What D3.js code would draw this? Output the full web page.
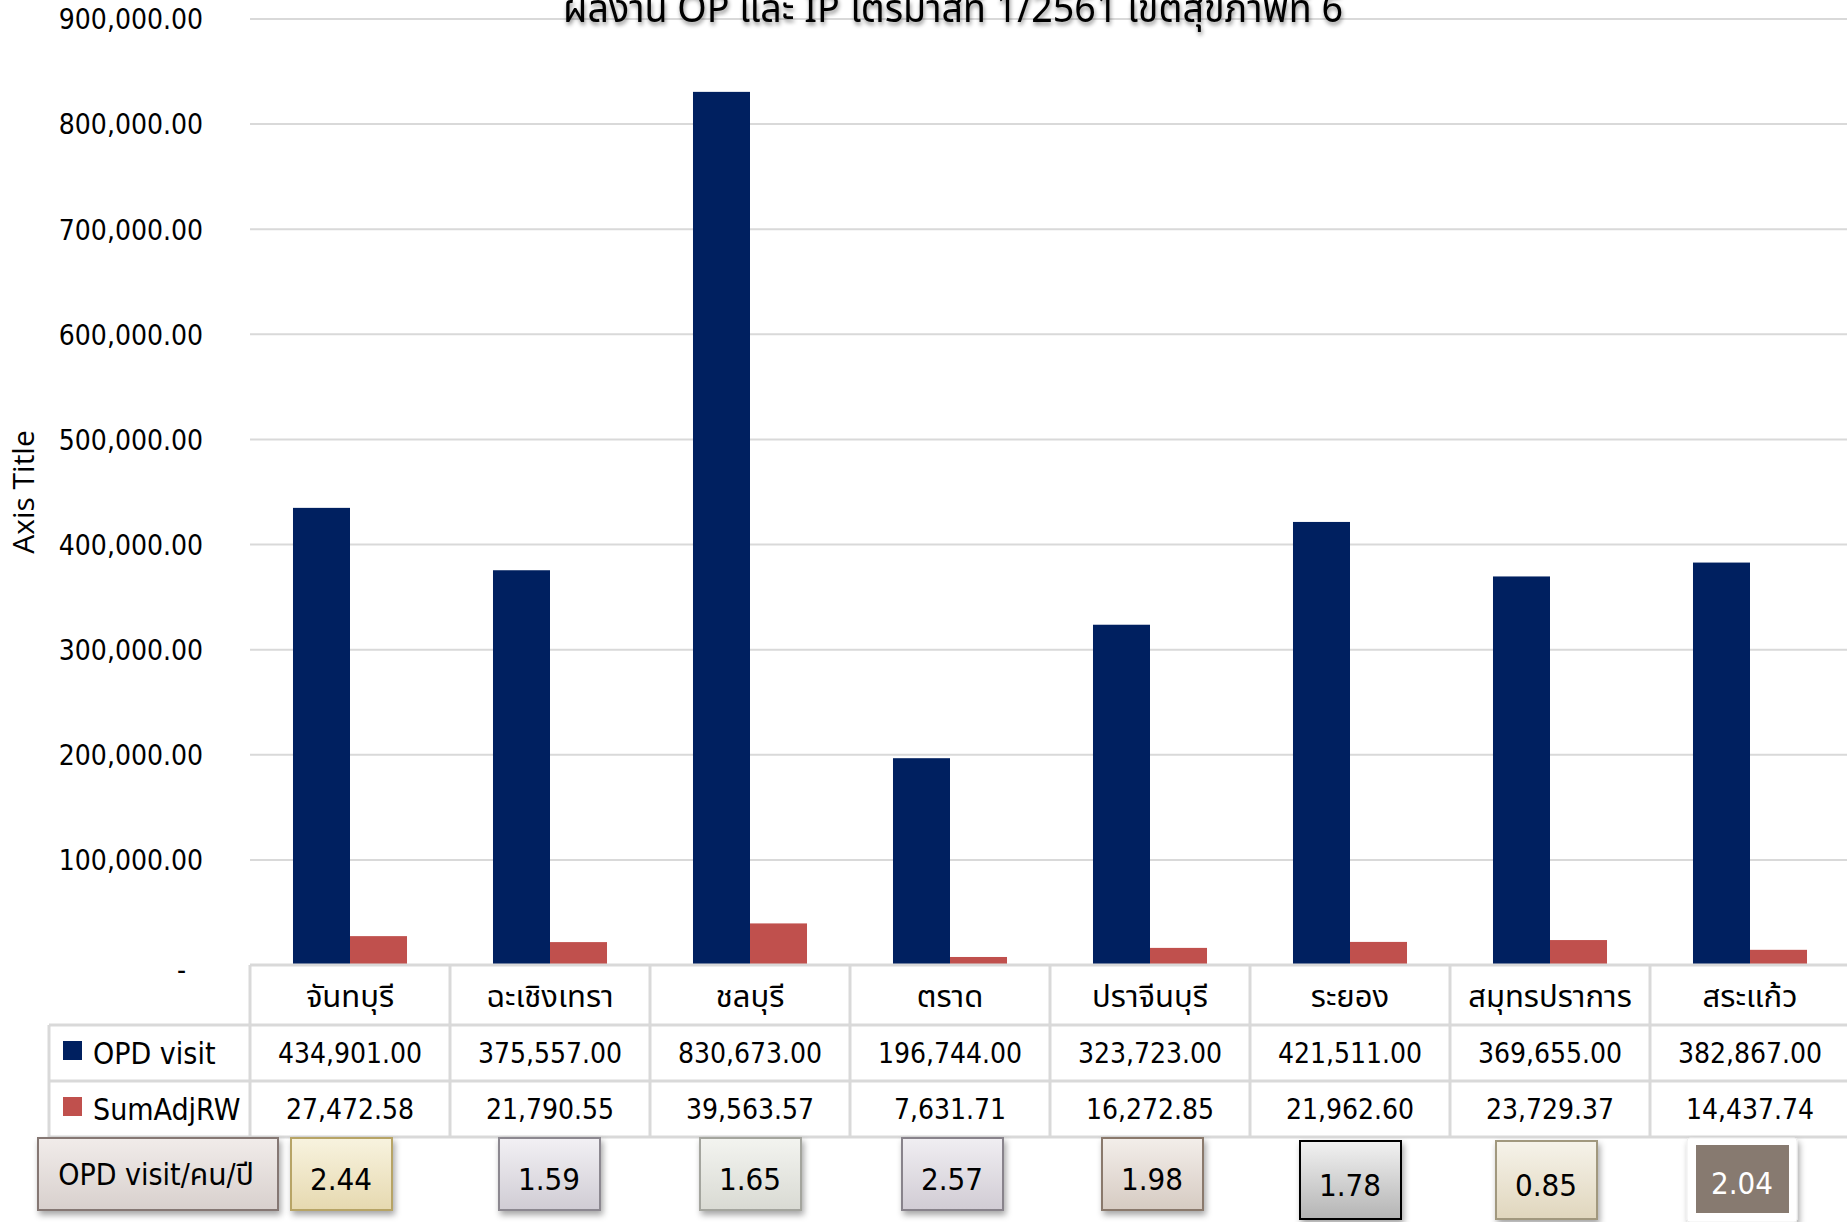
<!DOCTYPE html>
<html>
<head>
<meta charset="utf-8">
<script src="https://cdn.jsdelivr.net/npm/d3@7"></script>
<style>
  body { margin: 0; background: #fff; }
  text { font-family: "DejaVu Sans Condensed", "Noto Sans Thai", "Noto Sans", sans-serif; fill: #000; }
  text.thai { font-family: "Noto Sans Thai", "DejaVu Sans Condensed", sans-serif; }
</style>
</head>
<body>
<div id="chart"></div>
<script>
// data
const provinces = ["จันทบุรี", "ฉะเชิงเทรา", "ชลบุรี", "ตราด", "ปราจีนบุรี", "ระยอง", "สมุทรปราการ", "สระแก้ว"];
const seriesNames = ["OPD visit", "SumAdjRW"];
const opdVisit = [434901, 375557, 830673, 196744, 323723, 421511, 369655, 382867];
const sumAdjRW = [27472.58, 21790.55, 39563.57, 7631.71, 16272.85, 21962.60, 23729.37, 14437.74];
const visitPerPerson = [2.44, 1.59, 1.65, 2.57, 1.98, 1.78, 0.85, 2.04];
const yTicks = [0, 100000, 200000, 300000, 400000, 500000, 600000, 700000, 800000, 900000];
const titleText = "ผลงาน OP และ IP ไตรมาสที่ 1/2561 เขตสุขภาพที่ 6";
const axisTitle = "Axis Title";
const ratioLabel = "OPD visit/คน/ปี";

// look of the little boxes under the table
const boxStyles = [
  { top: "#f8f3df", bottom: "#e6d9b0", stroke: "#b7a466", dx: -9 },
  { top: "#f2f0f4", bottom: "#d0ccd4", stroke: "#8c8890", dx: -1 },
  { top: "#f3f4f0", bottom: "#d9dad3", stroke: "#a4a59e", dx: 0 },
  { top: "#f0eef2", bottom: "#d1ccd4", stroke: "#88838b", dx: 2 },
  { top: "#f3eeea", bottom: "#d6cbc2", stroke: "#8a796c", dx: 2 },
  { top: "#f2f2f2", bottom: "#b4b4b4", stroke: "#000", dx: 0, tall: true },
  { top: "#f6f3ea", bottom: "#e0d6bd", stroke: "#a1987e", dx: -4, tall: true },
  { top: "#877a70", bottom: "#877a70", stroke: "#fff", dx: -8, dark: true }
];

const width = 1847, height = 1222;
const plotLeft = 250, plotRight = 1850, plotTop = 19, base = 965;
const colors = ["#002060", "#C0504D"];
const gridColor = "#d9d9d9";
const fs = 28;

const svg = d3.select("#chart").append("svg")
  .attr("width", width).attr("height", height)
  .style("background-color", "white");

const defs = svg.append("defs");
const sh = defs.append("filter").attr("id", "shadow")
  .attr("x", "-20%").attr("y", "-20%").attr("width", "150%").attr("height", "160%");
sh.append("feDropShadow").attr("dx", 2).attr("dy", 4).attr("stdDeviation", 3)
  .attr("flood-color", "#000").attr("flood-opacity", 0.35);
const tsh = defs.append("filter").attr("id", "tshadow")
  .attr("x", "-5%").attr("y", "-50%").attr("width", "110%").attr("height", "200%");
tsh.append("feDropShadow").attr("dx", 1).attr("dy", 3).attr("stdDeviation", 2)
  .attr("flood-color", "#000").attr("flood-opacity", 0.45);

let yScale = d3.scaleLinear().domain([0, 900000]).range([base, plotTop]);
let xScale = d3.scaleBand().domain(provinces).range([plotLeft, plotRight]);
let xSub = d3.scaleBand().domain(seriesNames).range([0, xScale.bandwidth()]).paddingOuter(0.754);

// gridlines
svg.append("g").selectAll("line").data(yTicks).enter().append("line")
  .attr("x1", plotLeft).attr("x2", width)
  .attr("y1", (d) => yScale(d)).attr("y2", (d) => yScale(d))
  .attr("stroke", gridColor).attr("stroke-width", 2);

// y axis labels
let yAxis = d3.axisLeft(yScale).tickValues(yTicks).tickSize(0).tickPadding(0)
  .tickFormat((d) => (d === 0 ? "-" : d3.format(",.2f")(d)));
let gY = svg.append("g").attr("transform", "translate(203, 0)").call(yAxis);
gY.select(".domain").remove();
gY.attr("font-family", null).attr("font-size", null);
gY.selectAll("text").attr("font-size", fs).attr("fill", "#000")
  .attr("dy", "0.35em");
gY.selectAll(".tick").filter((d) => d === 0).select("text").attr("x", -17).attr("dy", "0.5em");

// axis title
svg.append("text").attr("transform", "translate(34, 492) rotate(-90)")
  .attr("text-anchor", "middle").attr("font-size", 30)
  .style("font-family", "'Open Sans', sans-serif").text(axisTitle);

// title
svg.append("text").attr("class", "thai").attr("x", 953).attr("y", 22).attr("text-anchor", "middle")
  .attr("font-size", 40).attr("textLength", 780).attr("lengthAdjust", "spacingAndGlyphs")
  .attr("filter", "url(#tshadow)").text(titleText);

// bars
const allSeries = [opdVisit, sumAdjRW];
allSeries.forEach((vals, s) => {
  svg.append("g").selectAll("rect").data(vals).enter().append("rect")
    .attr("x", (d, i) => xScale(provinces[i]) + xSub(seriesNames[s]))
    .attr("width", xSub.bandwidth())
    .attr("y", (d) => yScale(d))
    .attr("height", (d) => base - yScale(d))
    .attr("fill", colors[s]);
});

// data table
const rowY = [base, 1025, 1081, 1137];
let table = svg.append("g");
table.append("line").attr("x1", plotLeft).attr("x2", width).attr("y1", base).attr("y2", base)
  .attr("stroke", gridColor).attr("stroke-width", 3);
[rowY[1], rowY[2], rowY[3]].forEach((y) => {
  table.append("line").attr("x1", 49).attr("x2", width).attr("y1", y).attr("y2", y)
    .attr("stroke", gridColor).attr("stroke-width", 3);
});
table.selectAll("line.v").data(provinces).enter().append("line")
  .attr("x1", (d) => xScale(d)).attr("x2", (d) => xScale(d))
  .attr("y1", base).attr("y2", rowY[3])
  .attr("stroke", gridColor).attr("stroke-width", 3);
table.append("line").attr("x1", 49).attr("x2", 49).attr("y1", rowY[1]).attr("y2", rowY[3])
  .attr("stroke", gridColor).attr("stroke-width", 3);

// header
table.selectAll("text.h").data(provinces).enter().append("text")
  .attr("class", "thai")
  .attr("x", (d) => xScale(d) + xScale.bandwidth() / 2)
  .attr("y", (rowY[0] + rowY[1]) / 2 + 1).attr("dy", "0.35em")
  .attr("text-anchor", "middle").attr("font-size", 31).text((d) => d);

// series rows
allSeries.forEach((vals, s) => {
  let cy = (rowY[s + 1] + rowY[s + 2]) / 2;
  table.append("rect").attr("x", 63).attr("y", cy - 12).attr("width", 19).attr("height", 19)
    .attr("fill", colors[s]);
  table.append("text").attr("x", 93).attr("y", cy).attr("dy", "0.35em")
    .attr("font-size", 30).text(seriesNames[s]);
  table.selectAll("text.v" + s).data(vals).enter().append("text")
    .attr("x", (d, i) => xScale(provinces[i]) + xScale.bandwidth() / 2)
    .attr("y", cy).attr("dy", "0.35em")
    .attr("text-anchor", "middle").attr("font-size", fs)
    .text((d) => d3.format(",.2f")(d));
});

// ratio boxes
boxStyles.forEach((st, i) => {
  let g = defs.append("linearGradient").attr("id", "bg" + i)
    .attr("x1", 0).attr("y1", 0).attr("x2", 0).attr("y2", 1);
  g.append("stop").attr("offset", "0%").attr("stop-color", st.top);
  g.append("stop").attr("offset", "100%").attr("stop-color", st.bottom);
});
let lg = defs.append("linearGradient").attr("id", "lbg")
  .attr("x1", 0).attr("y1", 0).attr("x2", 0).attr("y2", 1);
lg.append("stop").attr("offset", "0%").attr("stop-color", "#f1ecea");
lg.append("stop").attr("offset", "100%").attr("stop-color", "#d8d0cd");

svg.append("rect").attr("x", 38).attr("y", 1138).attr("width", 240).attr("height", 72)
  .attr("fill", "url(#lbg)").attr("stroke", "#857773").attr("stroke-width", 2)
  .attr("filter", "url(#shadow)");
svg.append("text").attr("x", 156).attr("y", 1174).attr("dy", "0.35em")
  .attr("text-anchor", "middle").attr("font-size", 30).text(ratioLabel);

let boxes = svg.append("g").selectAll("g").data(visitPerPerson).enter().append("g")
  .attr("transform", (d, i) => {
    let cx = xScale(provinces[i]) + xScale.bandwidth() / 2 + boxStyles[i].dx;
    return "translate(" + cx + ", 0)";
  });
boxes.each(function (d, i) {
  let st = boxStyles[i];
  let g = d3.select(this);
  if (st.dark) {
    g.append("rect").attr("x", -55).attr("y", 1138).attr("width", 110).attr("height", 84)
      .attr("fill", "#fff").attr("rx", 3).attr("filter", "url(#shadow)")
      .attr("stroke", "#eee");
    g.append("rect").attr("x", -46).attr("y", 1145).attr("width", 93).attr("height", 68)
      .attr("fill", "url(#bg" + i + ")");
    g.append("text").attr("y", 1183).attr("dy", "0.35em").attr("text-anchor", "middle")
      .attr("font-size", 31).style("fill", "#fff").text(d3.format(".2f")(d));
  } else {
    let y0 = st.tall ? 1141 : 1138;
    let h = st.tall ? 78 : 72;
    g.append("rect").attr("x", -50).attr("y", y0).attr("width", 101).attr("height", h)
      .attr("fill", "url(#bg" + i + ")").attr("stroke", st.stroke)
      .attr("stroke-width", 2).attr("filter", "url(#shadow)");
    g.append("text").attr("y", y0 + h / 2 + 5).attr("dy", "0.35em").attr("text-anchor", "middle")
      .attr("font-size", 31).text(d3.format(".2f")(d));
  }
});
</script>
</body>
</html>
